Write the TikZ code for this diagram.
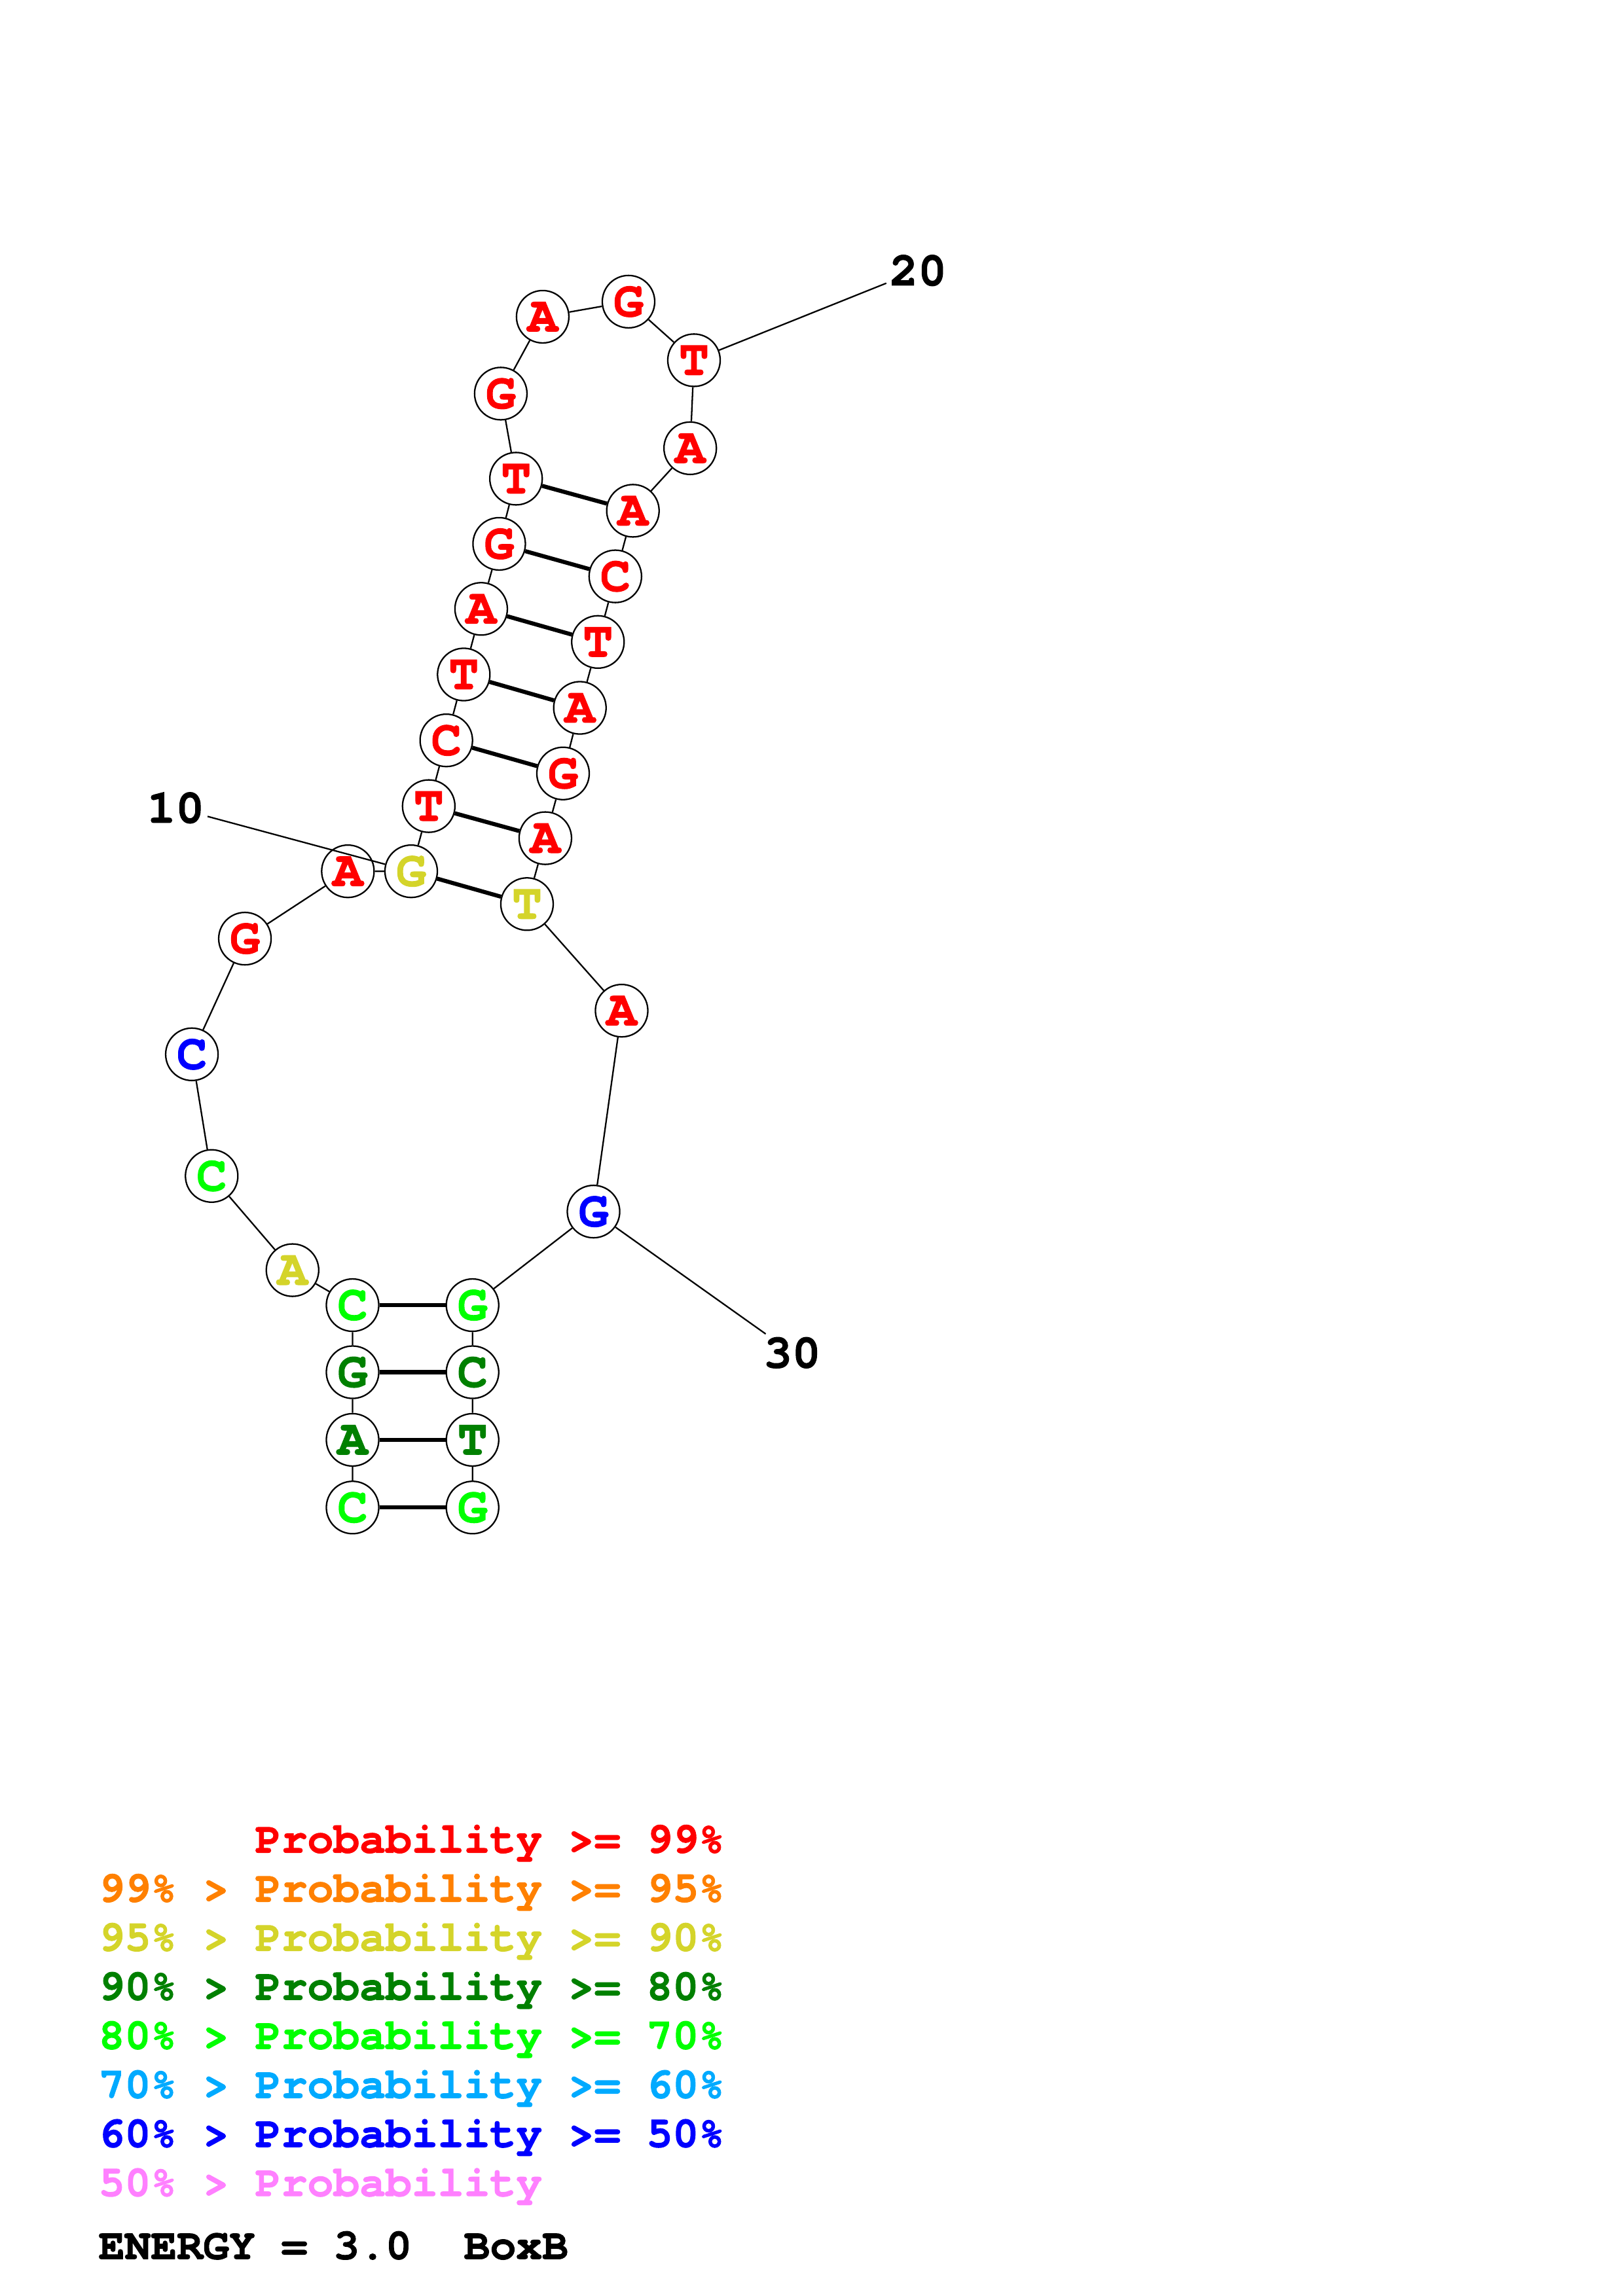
\documentclass[tikz,border=0pt]{standalone}
\usepackage{fontspec}
\usepackage{tikz}
\usetikzlibrary{positioning}
\newfontfamily\nucfont{TeX Gyre Cursor}[BoldFeatures={FakeBold=1.5}]
\definecolor{probred}{RGB}{255,0,0}
\definecolor{probora}{RGB}{255,128,0}
\definecolor{probyel}{RGB}{212,212,42}
\definecolor{probdkg}{RGB}{0,128,0}
\definecolor{probgrn}{RGB}{0,255,0}
\definecolor{probsky}{RGB}{0,170,255}
\definecolor{probblu}{RGB}{0,0,255}
\definecolor{probpnk}{RGB}{255,128,255}

\begin{document}
\begin{tikzpicture}[
        x=0.18943mm, y=-0.18943mm,
        nuc/.style={circle, draw=black, fill=white, line width=0.55pt, minimum size=6.78mm, inner sep=0pt, font=\nucfont\fontsize{18.5}{18.5}\selectfont\bfseries},
        bb/.style={line width=0.55pt},
        pairline/.style={line width=1.5pt},
        numlab/.style={inner sep=1pt, font=\nucfont\fontsize{17.5}{17.5}\selectfont\bfseries},
        legrow/.style={anchor=base west, inner sep=0pt, font=\nucfont\fontsize{16}{16}\selectfont\bfseries}
    ]
        \useasboundingbox (0,0) rectangle (1108,1568);

        \node[nuc, text=probgrn] (n1) at (240.7,1029.5) {C};
        \node[nuc, text=probdkg] (n2) at (240.7,983.3) {A};
        \node[nuc, text=probdkg] (n3) at (240.7,937.1) {G};
        \node[nuc, text=probgrn] (n4) at (240.7,891.3) {C};
        \node[nuc, text=probyel] (n5) at (199.7,867.4) {A};
        \node[nuc, text=probgrn] (n6) at (144.5,803.1) {C};
        \node[nuc, text=probblu] (n7) at (131.0,720.0) {C};
        \node[nuc, text=probred] (n8) at (167.2,641.0) {G};
        \node[nuc, text=probred] (n9) at (237.5,595.0) {A};
        \node[nuc, text=probyel] (n10) at (280.7,595.0) {G};
        \node[nuc, text=probred] (n11) at (292.7,550.5) {T};
        \node[nuc, text=probred] (n12) at (304.7,505.6) {C};
        \node[nuc, text=probred] (n13) at (316.6,460.6) {T};
        \node[nuc, text=probred] (n14) at (328.5,415.8) {A};
        \node[nuc, text=probred] (n15) at (340.8,371.4) {G};
        \node[nuc, text=probred] (n16) at (352.3,326.9) {T};
        \node[nuc, text=probred] (n17) at (341.9,268.8) {G};
        \node[nuc, text=probred] (n18) at (370.5,216.3) {A};
        \node[nuc, text=probred] (n19) at (429.1,206.0) {G};
        \node[nuc, text=probred] (n20) at (473.8,246.0) {T};
        \node[nuc, text=probred] (n21) at (471.2,306.1) {A};
        \node[nuc, text=probred] (n22) at (432.1,348.8) {A};
        \node[nuc, text=probred] (n23) at (420.1,393.6) {C};
        \node[nuc, text=probred] (n24) at (408.2,438.4) {T};
        \node[nuc, text=probred] (n25) at (395.9,483.4) {A};
        \node[nuc, text=probred] (n26) at (384.4,528.2) {G};
        \node[nuc, text=probred] (n27) at (372.3,572.4) {A};
        \node[nuc, text=probyel] (n28) at (359.8,617.4) {T};
        \node[nuc, text=probred] (n29) at (424.4,690.2) {A};
        \node[nuc, text=probblu] (n30) at (405.2,827.4) {G};
        \node[nuc, text=probgrn] (n31) at (322.6,891.3) {G};
        \node[nuc, text=probdkg] (n32) at (322.6,937.1) {C};
        \node[nuc, text=probdkg] (n33) at (322.6,983.3) {T};
        \node[nuc, text=probgrn] (n34) at (322.6,1029.5) {G};

        \draw[bb] (n1) -- (n2) -- (n3) -- (n4) -- (n5) -- (n6) -- (n7) -- (n8) -- (n9) -- (n10) -- (n11) -- (n12)
            -- (n13) -- (n14) -- (n15) -- (n16) -- (n17) -- (n18) -- (n19) -- (n20) -- (n21) -- (n22) -- (n23)
            -- (n24) -- (n25) -- (n26) -- (n27) -- (n28) -- (n29) -- (n30) -- (n31) -- (n32) -- (n33) -- (n34);

        \draw[pairline] (n1) -- (n34);
        \draw[pairline] (n2) -- (n33);
        \draw[pairline] (n3) -- (n32);
        \draw[pairline] (n4) -- (n31);
        \draw[pairline] (n10) -- (n28);
        \draw[pairline] (n11) -- (n27);
        \draw[pairline] (n12) -- (n26);
        \draw[pairline] (n13) -- (n25);
        \draw[pairline] (n14) -- (n24);
        \draw[pairline] (n15) -- (n23);
        \draw[pairline] (n16) -- (n22);

        \node[numlab] (lab10) at (120,551.7) {10};
        \node[numlab] (lab20) at (626.8,184.7) {20};
        \node[numlab] (lab30) at (540.8,923.8) {30};
        \draw[bb] (lab10) -- (n10);
        \draw[bb] (lab20) -- (n20);
        \draw[bb] (lab30) -- (n30);

        \node[legrow, text=probred] (leg1) at (67,1265.2) {\hphantom{99\% > }Probability >= 99\%};
        \node[legrow, text=probora] (leg2) at (67,1298.7) {99\% > Probability >= 95\%};
        \node[legrow, text=probyel] (leg3) at (67,1332.2) {95\% > Probability >= 90\%};
        \node[legrow, text=probdkg] (leg4) at (67,1365.7) {90\% > Probability >= 80\%};
        \node[legrow, text=probgrn] (leg5) at (67,1399.2) {80\% > Probability >= 70\%};
        \node[legrow, text=probsky] (leg6) at (67,1432.7) {70\% > Probability >= 60\%};
        \node[legrow, text=probblu] (leg7) at (67,1466.2) {60\% > Probability >= 50\%};
        \node[legrow, text=probpnk] (leg8) at (67,1499.7) {50\% > Probability};
        \node[legrow, text=black] (energy) at (67,1542.7) {ENERGY = 3.0\ \ BoxB};
    \end{tikzpicture}
\end{document}
